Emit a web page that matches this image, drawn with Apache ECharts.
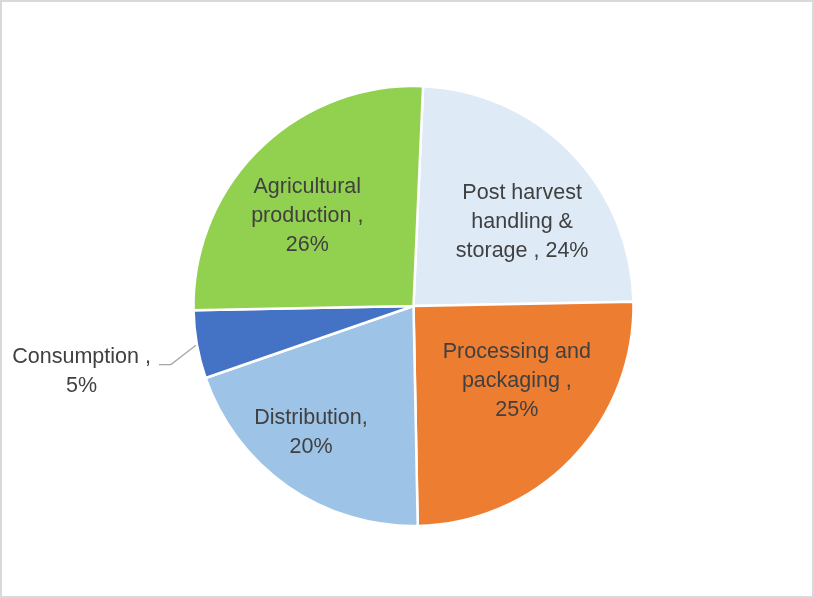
<!DOCTYPE html>
<html>
<head>
<meta charset="utf-8">
<script src="https://cdn.jsdelivr.net/npm/echarts@6/dist/echarts.min.js"></script>
<style>
html,body{margin:0;padding:0;background:#fff;}
#frame{position:absolute;left:0;top:0;width:810px;height:594px;border:2px solid #d9d9d9;background:#fff;}
#chart{position:absolute;left:0;top:0;width:814px;height:598px;}
</style>
</head>
<body>
<div id="frame"></div>
<div id="chart"></div>
<script>
// data
const categories = ["Post harvest handling & storage", "Processing and packaging", "Distribution", "Consumption", "Agricultural production"];
const values = [24, 25, 20, 5, 26];
const labelTemplates = [
  "Post harvest\nhandling &\nstorage , {v}%",
  "Processing and\npackaging ,\n{v}%",
  "Distribution,\n{v}%",
  "Consumption ,\n{v}%",
  "Agricultural\nproduction ,\n{v}%"
];

// style
const colors = ["#DEEBF7", "#ED7D31", "#9DC3E6", "#4472C4", "#92D050"];
// [angle shift in degrees, radius fraction] for inside labels
const labelPlacement = [[6.6, 0.624], [-8, 0.58], [4, 0.742], null, [-5.5, 0.632]];

const CX = 413.5, CY = 306, R = 220, START = 2.5; // START: degrees clockwise from 12 o'clock
const total = values.reduce((a, b) => a + b, 0);
const midAngles = [];
{
  let acc = 0;
  values.forEach(v => { midAngles.push(START + (acc + v / 2) / total * 360); acc += v; });
}

const chart = echarts.init(document.getElementById('chart'), null, {renderer: 'canvas'});
const data = categories.map((c, i) => {
  const item = {name: c, value: values[i], itemStyle: {color: colors[i]}};
  if (i === 3) {
    item.label = {position: 'outside'};
    item.labelLine = {show: true, smooth: false, length: 12, length2: 12, lineStyle: {color: '#a6a6a6', width: 1.3}};
  }
  return item;
});

chart.setOption({
  animation: false,
  series: [{
    type: 'pie',
    center: [CX, CY],
    radius: R,
    startAngle: 90 - START,
    clockwise: true,
    avoidLabelOverlap: false,
    data: data,
    itemStyle: {borderColor: '#ffffff', borderWidth: 2.5},
    label: {
      show: true,
      position: 'inside',
      formatter: p => labelTemplates[p.dataIndex].replace('{v}', p.value),
      color: '#404040',
      fontSize: 21.5,
      lineHeight: 29,
      fontFamily: 'Liberation Sans',
      align: 'center'
    },
    labelLine: {show: false},
    labelLayout: function (params) {
      const i = params.dataIndex;
      const r = params.labelRect;
      const lx = r.x + r.width / 2, ly = r.y + r.height / 2;
      const pl = labelPlacement[i];
      if (pl) {
        const a = (midAngles[i] + pl[0]) * Math.PI / 180;
        const tx = CX + Math.sin(a) * pl[1] * R;
        const ty = CY - Math.cos(a) * pl[1] * R;
        return {dx: tx - lx, dy: ty - ly};
      }
      // outside label with elbow leader line
      const a = midAngles[i] * Math.PI / 180;
      const p0 = [CX + Math.sin(a) * R, CY - Math.cos(a) * R];
      const p1 = [p0[0] - 26, p0[1] + 20];
      const p2 = [p1[0] - 12, p1[1]];
      const cx = p2[0] - 8 - r.width / 2;
      const cy = p2[1] + 7;
      return {
        x: cx, y: cy, align: 'center', verticalAlign: 'middle',
        labelLinePoints: [p0, p1, p2]
      };
    }
  }]
});
</script>
</body>
</html>
